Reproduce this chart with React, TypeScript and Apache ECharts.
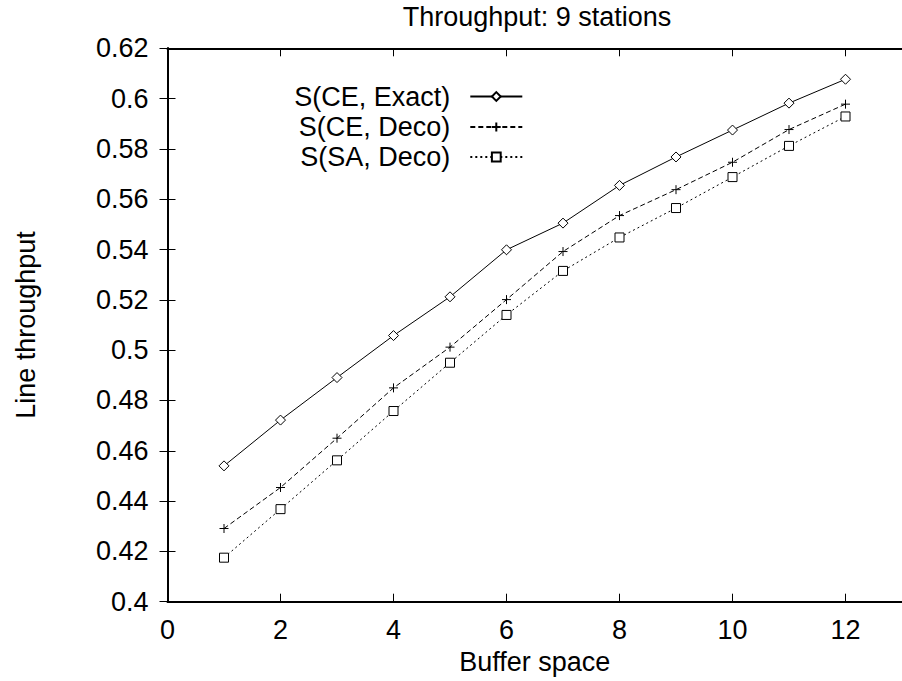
import React, { useEffect, useRef } from "react";
import * as echarts from "echarts";

const bufferSpace = [1, 2, 3, 4, 5, 6, 7, 8, 9, 10, 11, 12];
const ceExact = [0.454, 0.4722, 0.4891, 0.5058, 0.5212, 0.5399, 0.5505, 0.5655, 0.5768, 0.5875, 0.5982, 0.6077];
const ceDeco = [0.4291, 0.4454, 0.465, 0.485, 0.5012, 0.5201, 0.5392, 0.5535, 0.5638, 0.5747, 0.5877, 0.5978];
const saDeco = [0.4175, 0.4368, 0.4562, 0.4758, 0.495, 0.514, 0.5315, 0.5448, 0.5565, 0.5688, 0.5812, 0.5929];
const seriesNames = ["S(CE, Exact)", "S(CE, Deco)", "S(SA, Deco)"];
const titleText = "Throughput: 9 stations";
const xAxisName = "Buffer space";
const yAxisName = "Line throughput";

const FONT = "'Liberation Sans', Arial, Helvetica, sans-serif";
const FS = 27;

export default function App() {
  const ref = useRef<HTMLDivElement>(null);
  useEffect(() => {
    if (!ref.current) return;
    const chart = echarts.init(ref.current, undefined, { renderer: "svg" });
    const values = [ceExact, ceDeco, saDeco];
    const symbols = ["diamond", "path://M0,5L10,5M5,0L5,10", "rect"];
    const symbolSizes = [10, 9, 9];
    const dashes: any[] = ["solid", [5, 3], [2, 3]];
    const legendTops = [83, 113.5, 143.5];

    const axisCommon = {
      type: "value" as const,
      axisLine: { show: true, lineStyle: { color: "#000", width: 2 } },
      axisTick: { show: true, inside: true, length: 8, lineStyle: { color: "#000", width: 1 } },
      splitLine: { show: false },
    };

    chart.setOption({
      animation: false,
      backgroundColor: "#fff",
      title: {
        text: titleText,
        left: 537,
        top: 3,
        padding: 0,
        textAlign: "center",
        textStyle: { fontFamily: FONT, fontSize: FS, fontWeight: "normal", color: "#000" },
      },
      legend: seriesNames.map((n, i) => ({
        data: [n],
        orient: "horizontal",
        align: "right",
        right: 378.7,
        top: legendTops[i],
        padding: 0,
        itemWidth: 52,
        itemHeight: 11,
        selectedMode: false,
        textStyle: { fontFamily: FONT, fontSize: FS, color: "#000", padding: [0, 15, 0, 0] },
      })),
      grid: { left: 167.5, right: -6.3, top: 48.3, bottom: 79.3, containLabel: false },
      xAxis: [
        {
          ...axisCommon,
          position: "bottom",
          min: 0,
          max: 13,
          interval: 2,
          name: xAxisName,
          nameLocation: "middle",
          nameGap: 44,
          nameTextStyle: { fontFamily: FONT, fontSize: FS, color: "#000" },
          axisLabel: {
            show: true,
            showMaxLabel: false,
            margin: 15,
            fontFamily: FONT,
            fontSize: FS,
            color: "#000",
          },
        },
        {
          ...axisCommon,
          position: "top",
          min: 0,
          max: 13,
          interval: 2,
          axisLabel: { show: false },
        },
      ],
      yAxis: [
        {
          ...axisCommon,
          position: "left",
          min: 0.4,
          max: 0.62,
          interval: 0.02,
          name: yAxisName,
          nameLocation: "middle",
          nameGap: 128,
          nameRotate: 90,
          nameTextStyle: { fontFamily: FONT, fontSize: FS, color: "#000" },
          axisLabel: {
            show: true,
            margin: 19,
            fontFamily: FONT,
            fontSize: FS,
            color: "#000",
            formatter: (v: number) => String(+v.toFixed(2)),
          },
        },
        {
          ...axisCommon,
          position: "right",
          min: 0.4,
          max: 0.62,
          interval: 0.02,
          axisLabel: { show: false },
        },
      ],
      series: seriesNames.map((n, i) => ({
        name: n,
        type: "line",
        xAxisIndex: 0,
        yAxisIndex: 0,
        data: bufferSpace.map((x, j) => [x, values[i][j]]),
        symbol: symbols[i],
        symbolSize: symbolSizes[i],
        showAllSymbol: true,
        lineStyle: { color: "#000", width: 1, type: dashes[i] },
        itemStyle: { color: "#fff", borderColor: "#000", borderWidth: 1 },
        emphasis: { disabled: true },
        z: 3,
      })),
    });
    return () => chart.dispose();
  }, []);
  return (
    <div
      ref={ref}
      style={{ position: "fixed", left: 0, top: 0, width: 902, height: 681, background: "#fff" }}
    />
  );
}
